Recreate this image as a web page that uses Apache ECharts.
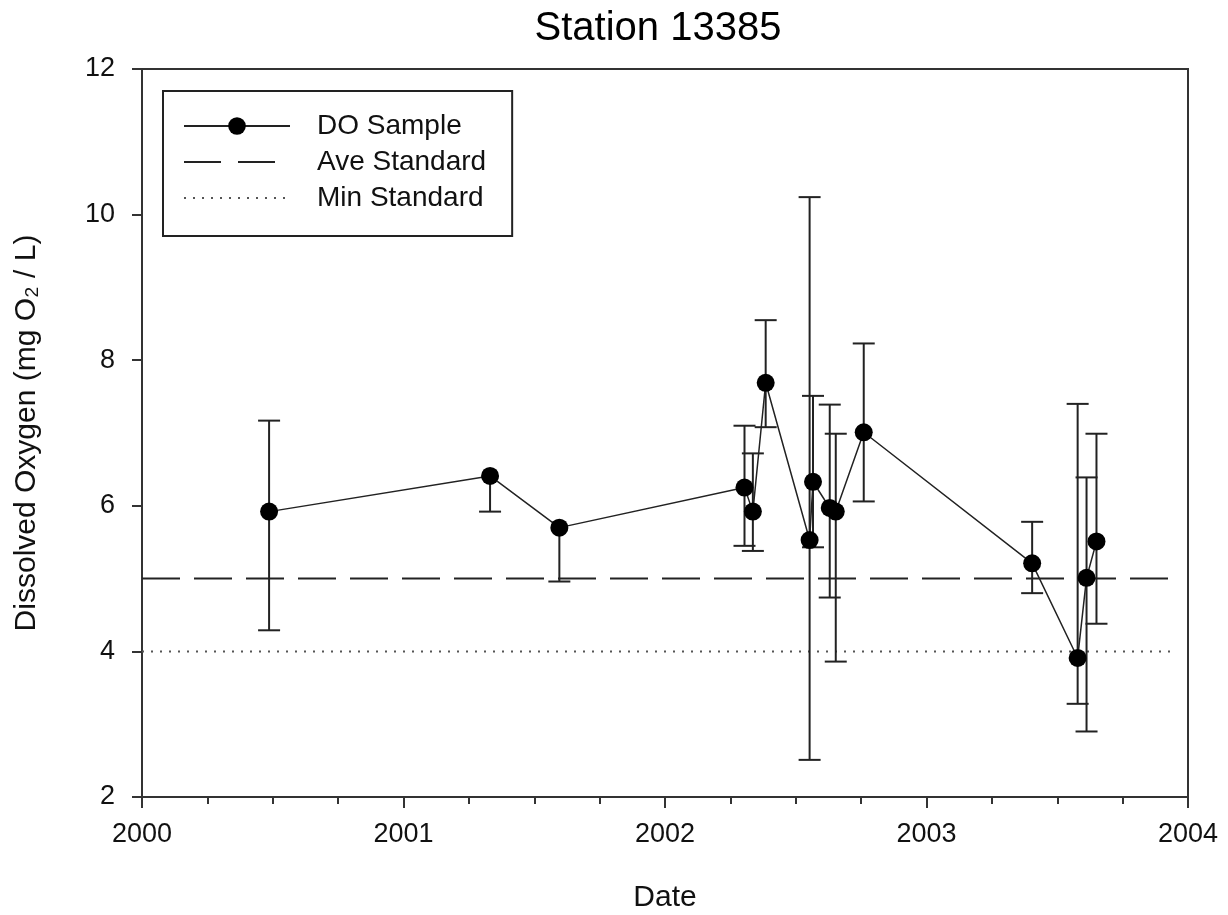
<!DOCTYPE html>
<html>
<head>
<meta charset="utf-8">
<script src="https://cdn.jsdelivr.net/npm/echarts@6/dist/echarts.min.js"></script>
<style>
html,body{margin:0;padding:0;background:#fff;}
#chart{width:1228px;height:915px;}
</style>
</head>
<body>
<div id="chart"></div>
<script>
// ---- data ----
const sampleDates = [2000.486, 2001.331, 2001.596, 2002.304, 2002.336, 2002.385, 2002.553, 2002.566, 2002.630, 2002.653, 2002.760, 2003.404, 2003.578, 2003.612, 2003.650];
const doValues    = [5.92, 6.41, 5.70, 6.25, 5.92, 7.69, 5.53, 6.33, 5.97, 5.92, 7.01, 5.21, 3.91, 5.01, 5.51];
const errLow      = [4.29, 5.92, 4.96, 5.45, 5.38, 7.08, 2.51, 5.43, 4.74, 3.86, 6.06, 4.80, 3.28, 2.90, 4.38];
const errHigh     = [7.17, 6.41, 5.70, 7.10, 6.72, 8.55, 10.24, 7.51, 7.39, 6.99, 8.23, 5.78, 7.40, 6.39, 6.99];
const aveStandard = 5;
const minStandard = 4;
const standardExtent = [2000, 2003.95];
const seriesNames = ['DO Sample', 'Ave Standard', 'Min Standard'];
const titleText = 'Station 13385';
const xAxisName = 'Date';
const yAxisName = 'Dissolved Oxygen (mg O\u2082 / L)';

const FONT = '"Liberation Sans", Arial, sans-serif';
const chart = echarts.init(document.getElementById('chart'), null, {renderer: 'canvas'});

const doData = sampleDates.map((d, i) => [d, doValues[i]]);
const errData = sampleDates.map((d, i) => [d, errLow[i], errHigh[i], doValues[i]]);

const option = {
  animation: false,
  backgroundColor: '#fff',
  title: {
    text: titleText,
    left: 653,
    textAlign: 'center',
    top: 4,
    textStyle: {fontFamily: FONT, fontSize: 40, fontWeight: 'normal', color: '#000'}
  },
  legend: {
    data: [
      {name: seriesNames[0]},
      {name: seriesNames[1], itemStyle: {opacity: 0}, lineStyle: {type: [37, 17]}},
      {name: seriesNames[2], itemStyle: {opacity: 0}}
    ],
    orient: 'vertical',
    left: 163,
    top: 91,
    padding: [20, 26, 23, 20],
    itemWidth: 106,
    itemHeight: 22,
    itemGap: 6,
    borderColor: '#222',
    borderWidth: 2,
    selectedMode: false,
    textStyle: {fontFamily: FONT, fontSize: 28, color: '#111', lineHeight: 30, padding: [0, 0, 0, 22]}
  },
  grid: {
    left: 142, right: 40, top: 69, bottom: 118,
    outerBoundsMode: 'none',
    containLabel: false,
    show: true, borderColor: '#333', borderWidth: 2, backgroundColor: 'transparent'
  },
  xAxis: {
    type: 'value', min: 2000, max: 2004, interval: 1,
    name: xAxisName, nameLocation: 'middle', nameGap: 86,
    nameTextStyle: {fontFamily: FONT, fontSize: 30, color: '#111'},
    axisLine: {lineStyle: {color: '#333', width: 2}},
    axisTick: {length: 11, lineStyle: {color: '#333', width: 2}},
    minorTick: {show: true, splitNumber: 4, length: 7, lineStyle: {color: '#333', width: 2}},
    splitLine: {show: false},
    minorSplitLine: {show: false},
    axisLabel: {formatter: v => String(v), fontFamily: FONT, fontSize: 27, color: '#111', margin: 24}
  },
  yAxis: {
    type: 'value', min: 2, max: 12, interval: 2,
    name: yAxisName, nameLocation: 'middle', nameGap: 100,
    nameTextStyle: {fontFamily: FONT, fontSize: 30, color: '#111'},
    axisLine: {lineStyle: {color: '#333', width: 2}},
    axisTick: {length: 10, lineStyle: {color: '#333', width: 2}},
    splitLine: {show: false},
    axisLabel: {fontFamily: FONT, fontSize: 27, color: '#111', margin: 27}
  },
  series: [
    {
      name: 'errorbars',
      type: 'custom',
      z: 2,
      encode: {x: 0, y: [1, 2]},
      data: errData,
      renderItem: function (params, api) {
        const x = api.value(0), lo = api.value(1), hi = api.value(2), v = api.value(3);
        const pLo = api.coord([x, lo]);
        const pHi = api.coord([x, hi]);
        const half = 11;
        const style = {stroke: '#222', lineWidth: 2, fill: null};
        const children = [{type: 'line', shape: {x1: pLo[0], y1: pLo[1], x2: pHi[0], y2: pHi[1]}, style: style}];
        if (hi > v) children.push({type: 'line', shape: {x1: pHi[0] - half, y1: pHi[1], x2: pHi[0] + half, y2: pHi[1]}, style: style});
        if (lo < v) children.push({type: 'line', shape: {x1: pLo[0] - half, y1: pLo[1], x2: pLo[0] + half, y2: pLo[1]}, style: style});
        return {type: 'group', children: children};
      }
    },
    {
      name: seriesNames[0],
      type: 'line',
      z: 3,
      data: doData,
      symbol: 'circle',
      symbolSize: 18,
      itemStyle: {color: '#000'},
      lineStyle: {color: '#222', width: 1.5}
    },
    {
      name: seriesNames[1],
      type: 'line',
      z: 1,
      data: standardExtent.map(x => [x, aveStandard]),
      symbol: 'none',
      itemStyle: {color: '#222'},
      lineStyle: {color: '#222', width: 2, type: [38, 14]}
    },
    {
      name: seriesNames[2],
      type: 'line',
      z: 1,
      data: standardExtent.map(x => [x, minStandard]),
      symbol: 'none',
      itemStyle: {color: '#555'},
      lineStyle: {color: '#555', width: 2, type: [2, 7]}
    }
  ]
};
chart.setOption(option);
</script>
</body>
</html>
